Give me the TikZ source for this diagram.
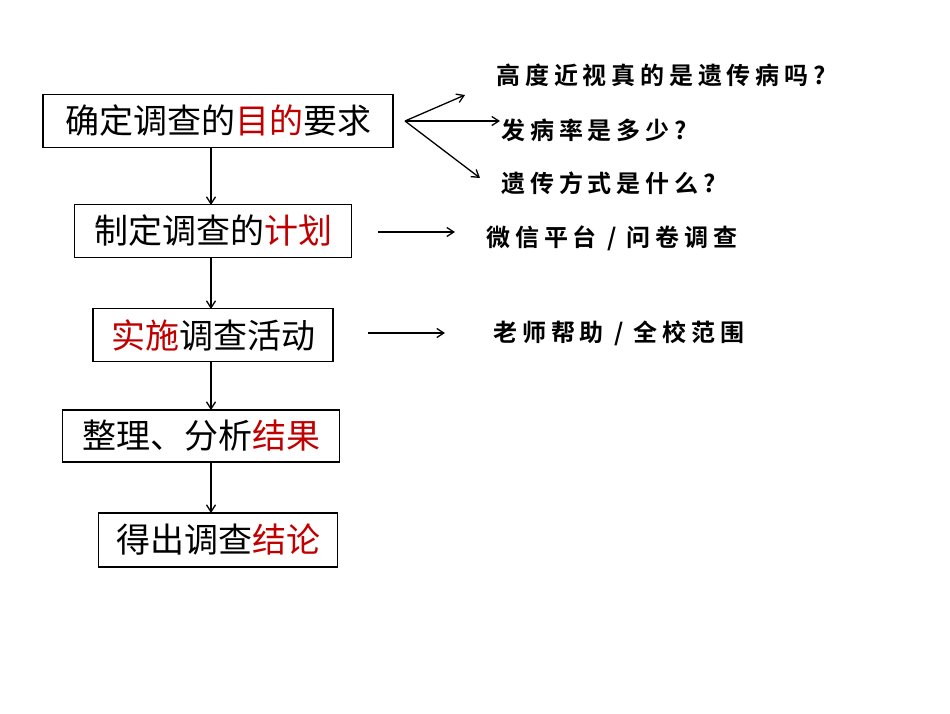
\documentclass[tikz,border=0pt]{standalone}
\usepackage{fontspec}
\setmainfont{Noto Sans CJK SC}
\newfontfamily\cjkb{Noto Sans CJK SC Bold}
\usetikzlibrary{arrows.meta}
\definecolor{dred}{RGB}{192,0,0}
\begin{document}
\begin{tikzpicture}[x=1pt,y=-1pt,
  box/.style={draw,line width=1.6pt,inner sep=0pt,font=\fontsize{34}{38}\selectfont},
  lbl/.style={anchor=west,font=\cjkb\fontsize{24}{30}\selectfont},
  arr/.style={-{Straight Barb[length=7pt,width=9pt]},line width=1.3pt}]
\useasboundingbox (0,0) rectangle (950,713);
\node[box,minimum width=350,minimum height=53] (b1) at (218,121) {确定调查的\textcolor{dred}{目的}要求};
\node[box,minimum width=277,minimum height=53] (b2) at (213,231) {制定调查的\textcolor{dred}{计划}};
\node[box,minimum width=240,minimum height=53] (b3) at (213,335) {\textcolor{dred}{实施}调查活动};
\node[box,minimum width=277,minimum height=52] (b4) at (201,436) {整理、分析\textcolor{dred}{结果}};
\node[box,minimum width=239,minimum height=54] (b5) at (218,540) {得出调查\textcolor{dred}{结论}};
\draw[arr] (211,148) -- (211,205);
\draw[arr] (211,258) -- (211,309);
\draw[arr] (211,362) -- (211,410);
\draw[arr] (211,462) -- (211,513);
\coordinate (f) at (405,121);
\node[lbl,font=\cjkb\fontsize{24}{30}\selectfont\addfontfeature{LetterSpace=20}] (t1) at (493,75) {高度近视真的是遗传病吗?};
\node[lbl,font=\cjkb\fontsize{24}{30}\selectfont\addfontfeature{LetterSpace=20}] (t2) at (498,130) {发病率是多少?};
\node[lbl,font=\cjkb\fontsize{24}{30}\selectfont\addfontfeature{LetterSpace=20}] (t3) at (498,183) {遗传方式是什么?};
\draw[arr] (f) -- (465,95);
\draw[arr] (f) -- (500,121);
\draw[arr] (f) -- (480,178);
\coordinate (a1) at (378,232);
\coordinate (a2) at (368,333);
\node[lbl,font=\cjkb\fontsize{24}{30}\selectfont\addfontfeature{LetterSpace=20}] (t4) at (483,238) {微信平台 / 问卷调查};
\node[lbl,font=\cjkb\fontsize{24}{30}\selectfont\addfontfeature{LetterSpace=20}] (t5) at (490,333) {老师帮助 / 全校范围};
\draw[arr] (a1) -- (455,232);
\draw[arr] (a2) -- (445,333);
\end{tikzpicture}
\end{document}
